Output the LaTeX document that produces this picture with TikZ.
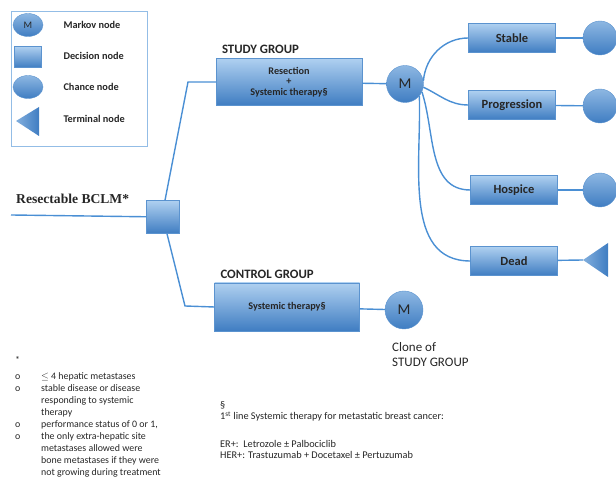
\documentclass[tikz,border=0pt]{standalone}
\usepackage{fontspec}
\setmainfont{Carlito}
\newfontfamily\bclmfont{Liberation Serif}
\usetikzlibrary{positioning,shapes.geometric}
\definecolor{treeblue}{HTML}{4A8FD4}
\definecolor{boxtop}{HTML}{AFD0F0}
\definecolor{boxbottom}{HTML}{3F7DC2}
\definecolor{boxedge}{HTML}{5B93CF}
\definecolor{legendedge}{HTML}{93BDE6}
\definecolor{inktext}{HTML}{262626}

\begin{document}
\begin{tikzpicture}[x=1pt,y=1pt,
  link/.style={draw=treeblue,line width=1.4pt},
  statebox/.style={rectangle,draw=boxedge,top color=boxtop,bottom color=boxbottom,
    align=center,inner sep=1pt,text=inktext,font=\bfseries\fontsize{10.2}{10.5}\selectfont},
  outcome/.style={statebox,minimum width=87pt,minimum height=29pt,font=\bfseries\fontsize{12.5}{13}\selectfont},
  markovnode/.style={circle,draw=boxedge,top color=boxtop!70!boxbottom,bottom color=boxbottom,
    minimum size=37pt,inner sep=0pt,text=inktext,font=\fontsize{15}{16}\selectfont},
  chancenode/.style={circle,draw=boxedge,top color=boxtop!70!boxbottom,bottom color=boxbottom,
    minimum size=34pt,inner sep=0pt},
  decisionnode/.style={rectangle,draw=boxedge,top color=boxtop,bottom color=boxbottom,inner sep=0pt},
  legendtext/.style={anchor=west,text=inktext,font=\bfseries\fontsize{10.3}{11}\selectfont},
  grouplabel/.style={text=inktext,font=\bfseries\fontsize{12.8}{14}\selectfont,inner sep=1pt},
  notetext/.style={text=inktext,align=left,inner sep=0pt}]
  \useasboundingbox (0,0) rectangle (616,478);

  % legend
  \draw[legendedge,line width=0.8pt] (11,332) rectangle (147,467);
  \node[ellipse,draw=boxedge,top color=boxtop!70!boxbottom,bottom color=boxbottom,minimum width=30pt,
    minimum height=23pt,inner sep=0pt,text=inktext,font=\fontsize{10}{11}\selectfont] (legmarkov) at (28,453) {M};
  \node[decisionnode,minimum width=27pt,minimum height=21pt] (legdecision) at (28,421) {};
  \node[ellipse,draw=boxedge,top color=boxtop!70!boxbottom,bottom color=boxbottom,minimum width=30pt,
    minimum height=23pt,inner sep=0pt] (legchance) at (28,391) {};
  \shade[left color=boxtop!60!boxbottom,right color=boxbottom] (16,357) -- (39,371) -- (39,342) -- cycle;
  \node[legendtext] (legmarkovtxt) at (60,453) {Markov node};
  \node[legendtext] (legdecisiontxt) at (60,422) {Decision node};
  \node[legendtext] (legchancetxt) at (60,391) {Chance node};
  \node[legendtext] (legterminaltxt) at (60,359) {Terminal node};

  % root and decision
  \node[anchor=base west,inner sep=0pt,text=inktext,font=\bclmfont\bfseries\fontsize{13.6}{15}\selectfont] (bclm) at (16,274) {Resectable BCLM*};
  \coordinate (root) at (11,263);
  \node[decisionnode,minimum size=33pt] (dec) at (163,261) {};
  \draw[link] (root) -- (dec);

  % study arm
  \node[statebox,minimum width=146pt,minimum height=47pt] (study) at (289,396) {Resection\\+\\Systemic therapy§};
  \node[grouplabel,above=3pt of study.north west,anchor=south west,xshift=5pt] (studylabel) {STUDY GROUP};
  \node[markovnode] (mstudy) at (405,394) {M};
  \coordinate (studybend) at (188,396);
  \draw[link] ([xshift=2pt]dec.north) -- (studybend) -- (study.west);
  \draw[link] (study) -- (mstudy);

  % markov states
  \node[outcome] (stable) at (512,440) {Stable};
  \node[outcome] (progression) at (512,373) {Progression};
  \node[outcome] (hospice) at (514,288) {Hospice};
  \node[outcome] (dead) at (514,217) {Dead};
  \node[chancenode] (stablec) at (600,440) {};
  \node[chancenode] (progressionc) at (600,372) {};
  \node[chancenode] (hospicec) at (600,288) {};
  \coordinate (deadend) at (583,218);
  \shade[left color=boxtop!60!boxbottom,right color=boxbottom] (deadend) -- (608,235) -- (608,201) -- cycle;
  \draw[link] (mstudy.10) to[out=85,in=180] (stable.west);
  \draw[link] (mstudy.-10) to[out=-25,in=180] (progression.west);
  \draw[link] (mstudy.-25) to[out=-72,in=180] (hospice.west);
  \draw[link] (mstudy.-40) to[out=-88,in=180] (dead.west);
  \draw[link] (stable) -- (stablec);
  \draw[link] (progression) -- (progressionc);
  \draw[link] (hospice) -- (hospicec);
  \draw[link] (dead) -- (deadend);

  % control arm
  \node[statebox,minimum width=145pt,minimum height=48pt] (control) at (287,171) {Systemic therapy§};
  \node[grouplabel,above=3pt of control.north west,anchor=south west,xshift=5pt] (controllabel) {CONTROL GROUP};
  \node[markovnode,minimum size=38pt] (mcontrol) at (404,168) {M};
  \coordinate (controlbend) at (185,172);
  \draw[link] ([xshift=4pt]dec.south) -- (controlbend) -- (control.west);
  \draw[link] (control) -- (mcontrol);
  \node[notetext,anchor=north west,font=\fontsize{13}{15}\selectfont] (clone) at (392,136) {Clone of\\STUDY GROUP};

  % footnotes
  \node[notetext,anchor=north west,font=\fontsize{9.9}{12}\selectfont] (criteria) at (15,123) {%
    \begin{tabular}{@{}p{26pt}@{}l@{}}
    * & \\[4pt]
    o & $\leq$ 4 hepatic metastases\\
    o & stable disease or disease\\
      & responding to systemic\\
      & therapy\\
    o & performance status of 0 or 1,\\
    o & the only extra-hepatic site\\
      & metastases allowed were\\
      & bone metastases if they were\\
      & not growing during treatment
    \end{tabular}};
  \node[notetext,anchor=north west,font=\fontsize{10.3}{11.5}\selectfont] (therapynote) at (220,77) {%
    §\\1\textsuperscript{st} line Systemic therapy for metastatic breast cancer:\\[16pt]
    ER+:\ \ Letrozole ± Palbociclib\\HER+: Trastuzumab + Docetaxel ± Pertuzumab};
\end{tikzpicture}
\end{document}
